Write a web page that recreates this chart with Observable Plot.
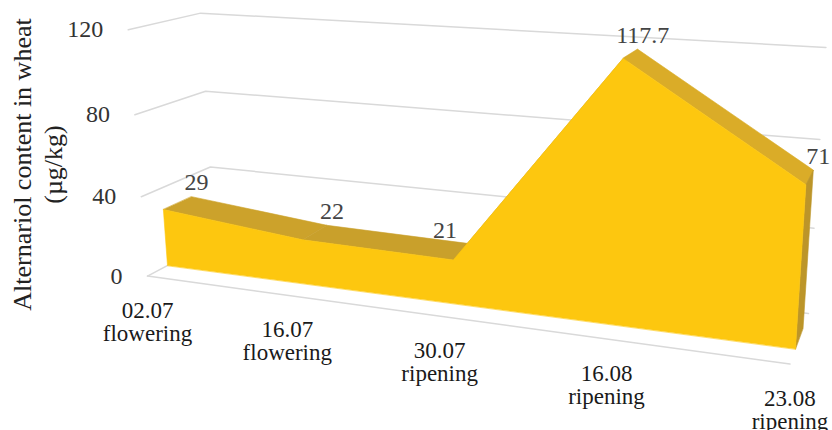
<!DOCTYPE html>
<html>
<head>
<meta charset="utf-8">
<script src="https://cdn.jsdelivr.net/npm/d3@7"></script>
<script src="https://cdn.jsdelivr.net/npm/@observablehq/plot@0.6"></script>
<style>
  html, body { margin: 0; padding: 0; background: #fff; }
</style>
</head>
<body>
<div id="chart"></div>
<script>
// Alternariol content in wheat, by sampling date and growth stage
const samplingDates = ["02.07", "16.07", "30.07", "16.08", "23.08"];
const growthStages = ["flowering", "flowering", "ripening", "ripening", "ripening"];
const alternariol = [29, 22, 21, 117.7, 71];
const valueTicks = [0, 40, 80, 120];

// 3-D view (rotation 20° / 15°, with perspective)
const view = {yaw: 20, pitch: 15, focal: 1263, centerX: 508, centerY: 171, offset: [-270, 74.4, 1000]};
const seriesDepth = 38.6;   // thickness of the area ribbon
const floorFront = -26.3;   // front edge of the floor
const backWall = 68;        // depth of the back wall
const last = samplingDates.length - 1;

// data -> world units
const catScale = Plot.scale({x: {domain: [0, last], range: [0, 490]}});
const valScale = Plot.scale({y: {domain: [0, 120], range: [0, 191.3]}});

const rad = Math.PI / 180, a = view.yaw * rad, b = view.pitch * rad;
const ex = [Math.cos(a), Math.sin(a) * Math.sin(b), -Math.sin(a) * Math.cos(b)];
const ey = [0, -Math.cos(b), -Math.sin(b)];
const ez = [Math.sin(a), -Math.cos(a) * Math.sin(b), Math.cos(a) * Math.cos(b)];

function project(X, Y, Z) {
  const c = [0, 1, 2].map(k => view.offset[k] + ex[k] * X + ey[k] * Y + ez[k] * Z);
  return [view.centerX + view.focal * c[0] / c[2], view.centerY + view.focal * c[1] / c[2]];
}
const pt = (i, v, Z) => project(catScale.apply(i), valScale.apply(v), Z);
const row = (i, v, Z, extra) => { const [x, y] = pt(i, v, Z); return {x, y, ...extra}; };

// gridlines on the side wall and back wall
const grid = valueTicks.flatMap(t => [
  row(0, t, floorFront, {tick: t}),
  row(0, t, backWall, {tick: t}),
  row(last, t, backWall, {tick: t})
]);
const axisLine = [row(0, 0, floorFront), row(last, 0, floorFront)];

// faces of the area ribbon: sloped tops, right end, front
const faces = [];
for (let i = 0; i < last; i++) {
  const dY = valScale.apply(alternariol[i + 1]) - valScale.apply(alternariol[i]);
  const dX = catScale.apply(i + 1) - catScale.apply(i);
  const nx = Math.max(0, -dY / Math.hypot(dX, dY));
  const color = d3.interpolateRgb("#C9A02B", "#DBAD28")(Math.min(1, nx / 0.55));
  const id = "top" + i;
  faces.push(
    row(i, alternariol[i], 0, {face: id, color}),
    row(i + 1, alternariol[i + 1], 0, {face: id, color}),
    row(i + 1, alternariol[i + 1], seriesDepth, {face: id, color}),
    row(i, alternariol[i], seriesDepth, {face: id, color})
  );
}
const sideColor = "#BC9529";
faces.push(
  row(last, 0, 0, {face: "side", color: sideColor}),
  row(last, alternariol[last], 0, {face: "side", color: sideColor}),
  row(last, alternariol[last], seriesDepth, {face: "side", color: sideColor}),
  row(last, 0, seriesDepth, {face: "side", color: sideColor})
);
const frontColor = "#FDC70F";
faces.push(row(0, 0, 0, {face: "front", color: frontColor}));
alternariol.forEach((v, i) => faces.push(row(i, v, 0, {face: "front", color: frontColor})));
faces.push(row(last, 0, 0, {face: "front", color: frontColor}));

// value labels sit above the back edge; a label before a rise moves left of it
const valueLabels = alternariol.map((v, i) => row(i, v, seriesDepth, {
  label: String(v),
  shift: i < last && alternariol[i + 1] > v ? -28 : 5
}));
const categoryLabels = samplingDates.map((d, i) => row(i, 0, floorFront, {label: `${d}\n${growthStages[i]}`}));
const tickLabels = valueTicks.map(t => row(0, t, floorFront, {label: String(t)}));

const serif = "Liberation Serif, Times New Roman, serif";

const chart = Plot.plot({
  width: 832,
  height: 430,
  margin: 0,
  x: {type: "identity", axis: null},
  y: {type: "identity", axis: null},
  color: {type: "identity"},
  style: {background: "#fff", fontFamily: serif},
  marks: [
    Plot.line(grid, {x: "x", y: "y", z: "tick", stroke: "#D9D9D9", strokeWidth: 1.5}),
    Plot.line(axisLine, {x: "x", y: "y", stroke: "#D9D9D9", strokeWidth: 1.5}),
    Plot.line(faces, {x: "x", y: "y", z: "face", fill: "color", stroke: "color", strokeWidth: 0.6, curve: "linear-closed"}),
    Plot.text(tickLabels, {x: "x", y: "y", text: "label", textAnchor: "end", dx: -25, fontSize: 24, fontFamily: serif, fill: "#333"}),
    Plot.text(categoryLabels, {x: "x", y: "y", text: "label", lineAnchor: "top", dy: 25, lineHeight: 1.02, fontSize: 23, fontFamily: serif, fill: "#1a1a1a"}),
    Plot.text(valueLabels, {x: d => d.x + d.shift, y: "y", text: "label", dy: -14, fontSize: 24, fontFamily: serif, fill: "#444"}),
    Plot.text(["Alternariol content in wheat\n(µg/kg)"], {frameAnchor: "top-left", dx: 36, dy: 164, rotate: -90, textAnchor: "middle", lineAnchor: "middle", lineHeight: 1.2, fontSize: 26, fontFamily: serif, fill: "#222"})
  ]
});
document.getElementById("chart").appendChild(chart);
</script>
</body>
</html>
